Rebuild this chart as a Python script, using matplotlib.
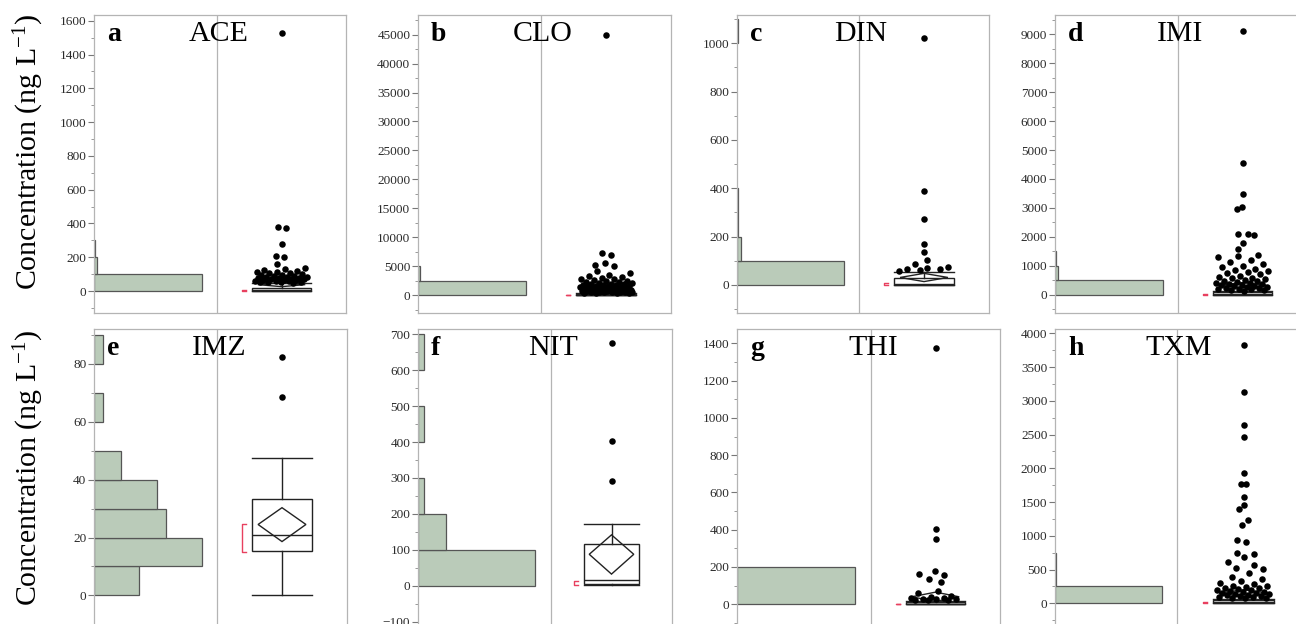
import numpy as np
import matplotlib
matplotlib.use("Agg")
import matplotlib.pyplot as plt
from matplotlib.patches import Polygon
from matplotlib.ticker import MultipleLocator

plt.rcParams['font.family'] = ['Liberation Serif', 'DejaVu Serif']
plt.rcParams['mathtext.fontset'] = 'custom'
plt.rcParams['mathtext.rm'] = 'Liberation Serif'
plt.rcParams['mathtext.it'] = 'Liberation Serif:italic'

# ---- data ----
names = ['ACE', 'CLO', 'DIN', 'IMI', 'IMZ', 'NIT', 'THI', 'TXM']
letters = ['a', 'b', 'c', 'd', 'e', 'f', 'g', 'h']

# histogram bin width and counts (bins start at 0)
bin_step = [100, 2500, 100, 500, 10, 100, 200, 250]
ace_counts = [300, 9, 3, 2, 0, 0, 0, 0, 0, 0, 0, 0, 0, 0, 0, 1]
clo_counts = [600, 10, 5, 0, 0, 0, 0, 0, 0, 0, 0, 0, 0, 0, 0, 0, 0, 0, 1]
din_counts = [90, 3, 1, 1, 0, 0, 0, 0, 0, 0, 1]
imi_counts = [450, 14, 6, 2, 3, 1, 2, 0, 0, 1, 0, 0, 0, 0, 0, 0, 0, 0, 1]
imz_counts = [5, 12, 8, 7, 3, 0, 1, 0, 1]
nit_counts = [21, 5, 1, 0, 1, 0, 1]
thi_counts = [150, 1, 1, 0, 0, 0, 1]
txm_counts = [600, 8, 7, 2, 2, 2, 1, 3, 0, 1, 1, 0, 1, 0, 0, 1]

# outlier points
ace_pts = [1530, 380, 371, 278, 209, 203, 160, 135, 128, 124, 120, 115, 112, 108,
           104, 100, 97, 94, 91, 88, 86, 84, 82, 80, 78, 76, 74, 72, 70, 68, 66,
           64, 62, 60, 58, 56, 55, 54, 52, 50]
clo_pts = [45000, 7300, 7000, 5500, 5200, 5050, 4100, 3750, 3500, 3300, 3200, 3000,
           2850, 2700, 2600, 2500, 2400, 2300, 2200, 2100, 2000, 1950, 1900, 1850,
           1800, 1750, 1700, 1650, 1600, 1550, 1500, 1450, 1400, 1350, 1300, 1250,
           1200, 1150, 1100, 1050, 1000, 950, 900, 850, 800, 780, 750, 720, 700,
           680, 650, 620, 600, 580, 550, 520, 500, 480, 450, 420, 400, 380, 360]
din_pts = [1020, 390, 273, 168, 135, 103, 86, 76, 72, 68, 65, 62, 58]
imi_pts = [9130, 4560, 3480, 3040, 2950, 2100, 2090, 2080, 1780, 1570, 1380, 1320,
           1300, 1200, 1120, 1050, 980, 940, 900, 860, 820, 780, 740, 700, 660, 620,
           590, 560, 530, 510, 480, 460, 440, 420, 400, 380, 360, 340, 320, 300, 285,
           270, 255, 240, 225, 210, 195, 180, 165, 150, 140]
imz_pts = [82.3, 68.6]
nit_pts = [674, 402, 292.5]
thi_pts = [1373, 402, 352, 180, 161, 155, 134, 121, 71, 62, 45, 40, 35, 32, 30, 28,
           26, 25, 24, 23]
txm_pts = [3826, 3132, 2637, 2458, 1923, 1774, 1770, 1576, 1462, 1402, 1239, 1164,
           931, 907, 743, 730, 684, 604, 569, 520, 510, 446, 396, 360, 330, 300, 280,
           260, 250, 240, 230, 220, 210, 200, 190, 180, 170, 160, 150, 145, 140, 130,
           120, 115, 110, 100, 95, 90, 85, 80, 75]

# box: whislo, q1, median, q3, whishi
ace_box = [0, 0, 5, 20, 45]
clo_box = [0, 0, 30, 150, 350]
din_box = [0, 0, 5, 28, 54]
imi_box = [0, 0, 10, 90, 130]
imz_box = [0, 15.3, 20.9, 33.3, 47.4]
nit_box = [2, 5.5, 16, 116, 172]
thi_box = [0, 0, 3, 10, 20]
txm_box = [0, 2, 12, 45, 68]

# mean diamond: mean, lower, upper
ace_mean = [38, 26, 50]
clo_mean = [560, 300, 820]
din_mean = [31, 14, 48]
imi_mean = [330, 240, 420]
imz_mean = [24.5, 18.6, 30.3]
nit_mean = [88, 33, 142]
thi_mean = [40, 15, 65]
txm_mean = [150, 100, 200]

# shortest half bracket
ace_short = [0, 6]
clo_short = [0, 60]
din_short = [0, 8]
imi_short = [0, 25]
imz_short = [15.1, 24.7]
nit_short = [4, 14]
thi_short = [0, 4]
txm_short = [0, 15]

counts = [ace_counts, clo_counts, din_counts, imi_counts, imz_counts, nit_counts, thi_counts, txm_counts]
points = [ace_pts, clo_pts, din_pts, imi_pts, imz_pts, nit_pts, thi_pts, txm_pts]
boxes = [ace_box, clo_box, din_box, imi_box, imz_box, nit_box, thi_box, txm_box]
means = [ace_mean, clo_mean, din_mean, imi_mean, imz_mean, nit_mean, thi_mean, txm_mean]
shorts = [ace_short, clo_short, din_short, imi_short, imz_short, nit_short, thi_short, txm_short]

# axis settings: ylim, major, minor
ylims = [(-130, 1634), (-3100, 48400), (-116, 1117), (-633, 9667),
         (-10.9, 92), (-114, 714), (-122, 1477), (-352, 4064)]
majors = [200, 5000, 200, 1000, 20, 100, 200, 500]
minors = [100, 2500, 100, 500, 10, 50, 100, 250]

# ---- layout in pixels: left, right, divider, top, bottom ----
W, H = 1296, 624
boxpos = [(94, 346, 217, 15, 313), (418, 671, 541, 15, 313),
          (737, 989, 859, 15, 313), (1055, 1307, 1178, 15, 313),
          (94, 347, 217, 329, 627), (418, 672, 551, 329, 627),
          (737, 1000, 871, 329, 627), (1055, 1310, 1177, 329, 627)]

fig = plt.figure(figsize=(W / 100, H / 100), dpi=100)

gray = '#b4b4b4'
dark = '#222222'

for k in range(8):
    L, R, D, T, B = boxpos[k]
    ax = fig.add_axes([L / W, 1 - B / H, (R - L) / W, (B - T) / H])
    wid = R - L
    div = D - L
    ax.set_xlim(0, wid)
    ax.set_ylim(*ylims[k])
    for s in ax.spines.values():
        s.set_color(gray)
        s.set_linewidth(0.9)
    ax.axvline(div, color=gray, lw=0.9)
    ax.set_xticks([])
    ax.yaxis.set_major_locator(MultipleLocator(majors[k]))
    ax.yaxis.set_minor_locator(MultipleLocator(minors[k]))
    ax.tick_params(axis='y', which='major', length=4, width=0.8, color='#777777',
                   labelsize=9.5, labelcolor='#2a2a2a', pad=1.5)
    ax.tick_params(axis='y', which='minor', length=2.5, width=0.7, color='#999999')

    # histogram (left half); bars thinner than a pixel are not drawn
    c = np.array(counts[k], dtype=float)
    step = bin_step[k]
    starts = np.arange(len(c)) * step
    widths = c / c.max() * 0.88 * div
    keep = widths >= 1.0
    ax.barh(starts[keep], widths[keep], height=step, left=0, align='edge',
            color='#bacbb9', edgecolor='#555555', linewidth=0.9, zorder=2)

    # box plot (right half)
    cx = (div + wid) / 2
    hw = 0.23 * (wid - div)
    wlo, q1, med, q3, whi = boxes[k]
    stats = [dict(med=med, q1=q1, q3=q3, whislo=wlo, whishi=whi, fliers=[])]
    ax.bxp(stats, positions=[cx], widths=2 * hw, capwidths=2 * hw, showfliers=False,
           patch_artist=True,
           boxprops=dict(facecolor='white', edgecolor=dark, linewidth=1),
           medianprops=dict(color=dark, linewidth=1),
           whiskerprops=dict(color=dark, linewidth=1),
           capprops=dict(color=dark, linewidth=1), manage_ticks=False)

    m, mlo, mhi = means[k]
    dw = 0.8 * hw
    ax.add_patch(Polygon([(cx - dw, m), (cx, mhi), (cx + dw, m), (cx, mlo)],
                         closed=True, fill=False, edgecolor=dark, lw=1, zorder=3))

    slo, shi = shorts[k]
    bx = cx - 1.33 * hw
    bt = cx - 1.2 * hw
    ax.plot([bt, bx, bx, bt], [shi, shi, slo, slo], color='#e8405f', lw=1, zorder=3)

    # outlier points, jittered only where they crowd
    y = np.array(points[k], dtype=float)
    yr = ylims[k][1] - ylims[k][0]
    off = np.zeros_like(y)
    for i in range(len(y)):
        near = np.sum(np.abs(y - y[i]) < 0.02 * yr) - 1
        spread = min(1.0, near / 4.0) * hw * 0.9
        off[i] = (((i + 1) * 0.6180339) % 1 - 0.5) * 2 * spread
    ax.scatter(cx + off, y, s=22, color='black', zorder=4, linewidths=0)

    ax.text(0.052, 0.935, letters[k], transform=ax.transAxes, fontweight='bold',
            fontsize=20, ha='left', va='center')
    ax.text(div + 2, 0.935, names[k], transform=ax.get_xaxis_transform(),
            fontsize=21.5, ha='center', va='center')

ylab = 'Concentration (ng L$^{-1}$)'
fig.text(29 / W, 1 - 152 / H, ylab, rotation=90, fontsize=21.5, ha='center', va='center')
fig.text(29 / W, 1 - 468 / H, ylab, rotation=90, fontsize=21.5, ha='center', va='center')

fig.savefig('out.png', dpi=100)
